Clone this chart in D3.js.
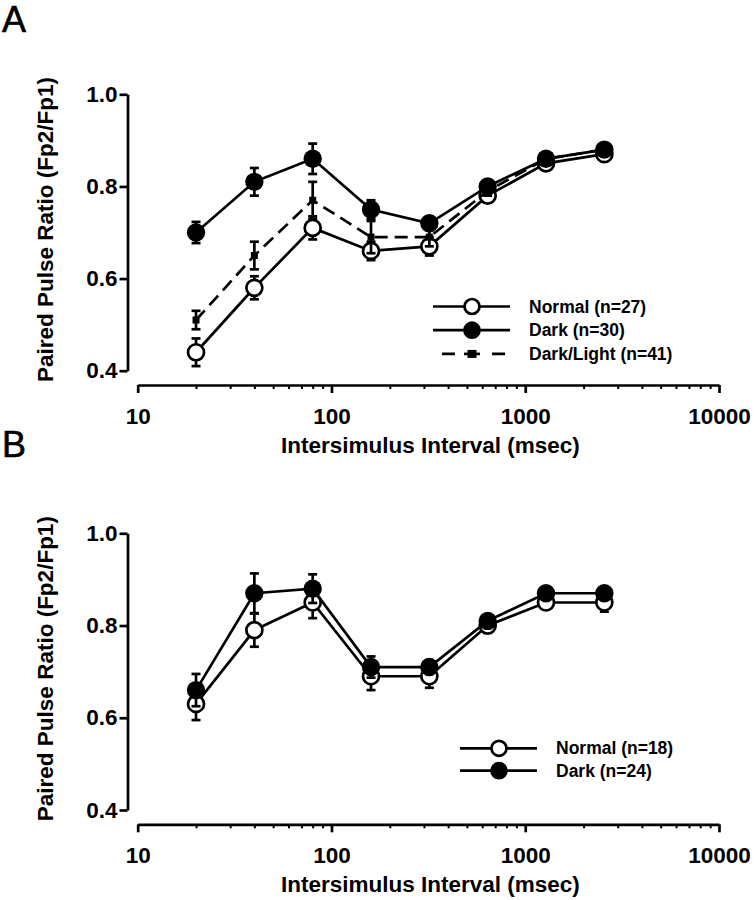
<!DOCTYPE html>
<html>
<head>
<meta charset="utf-8">
<script src="https://cdn.jsdelivr.net/npm/d3@7"></script>
<style>
  body { margin: 0; background: #fff; }
  svg text { font-family: "Liberation Sans", Arial, Helvetica, sans-serif; fill: #000; }
</style>
</head>
<body>
<div id="chart"></div>
<script>
// inter-stimulus intervals (msec)
const isi = [20, 40, 80, 160, 320, 640, 1280, 2560];

// panel A
const aNormal = [0.44, 0.58, 0.71, 0.66, 0.67, 0.78, 0.85, 0.87];
const aNormalErr = [0.03, 0.025, 0.025, 0.02, 0.02, 0.01, 0.01, 0.01];
const aDark = [0.70, 0.81, 0.86, 0.75, 0.72, 0.80, 0.86, 0.88];
const aDarkErr = [0.023, 0.03, 0.033, 0.02, 0.015, 0.01, 0.01, 0.01];
const aDarkLight = [0.51, 0.65, 0.77, 0.69, 0.69, 0.79, 0.86, 0.88];
const aDarkLightErr = [0.02, 0.03, 0.04, 0.035, 0.02, 0.01, 0.01, 0.01];

// panel B
const bNormal = [0.63, 0.79, 0.85, 0.69, 0.69, 0.80, 0.85, 0.85];
const bNormalErr = [0.035, 0.036, 0.034, 0.03, 0.025, 0.016, 0.01, 0.02];
const bDark = [0.66, 0.87, 0.88, 0.71, 0.71, 0.81, 0.87, 0.87];
const bDarkErr = [0.035, 0.043, 0.031, 0.023, 0.015, 0.01, 0.01, 0.01];

const yTicks = [0.4, 0.6, 0.8, 1.0];
const xMajorTicks = [10, 100, 1000, 10000];
const xTitle = "Intersimulus Interval (msec)";
const yTitle = "Paired Pulse Ratio (Fp2/Fp1)";
const aLegend = ["Normal (n=27)", "Dark (n=30)", "Dark/Light (n=41)"];
const bLegend = ["Normal (n=18)", "Dark (n=24)"];

var cfg = {
  width: 756,
  height: 900,
  xLeft: 137.7,
  xRight: 719,
  yAxisX: 127.5,
  lw: 2.7
};

var svg = d3.select("#chart").append("svg")
  .attr("width", cfg.width)
  .attr("height", cfg.height);

var x = d3.scaleLog().domain([10, 10000]).range([cfg.xLeft, cfg.xRight]);

// minor ticks 20..90, 200..900, 2000..9000
var xMinorTicks = [];
[10, 100, 1000].forEach(d => { for (let k = 2; k <= 9; k++) xMinorTicks.push(d * k); });

function drawPanel(opt){
  var y = d3.scaleLinear().domain([0.4, 1.0]).range([opt.yBottom, opt.yTop]);
  var g = svg.append("g");

  // panel letter
  g.append("text")
    .attr("x", 2)
    .attr("y", opt.letterY)
    .style("font-size", "36px")
    .style("stroke", "#000")
    .style("stroke-width", 0.6)
    .text(opt.letter);

  // y axis
  var yAxis = g.append("g")
    .attr("transform", `translate(${cfg.yAxisX},0)`)
    .call(d3.axisLeft(y).tickValues(yTicks).tickFormat(d3.format(".1f"))
      .tickSize(8).tickSizeOuter(0).tickPadding(2));
  yAxis.select(".domain").attr("stroke-width", cfg.lw);
  yAxis.selectAll("line").attr("stroke-width", cfg.lw);
  yAxis.selectAll("text")
    .style("font-size", "22.5px")
    .style("font-weight", "bold");

  // x axis: minor ticks then major with labels
  var xAxisY = opt.yBottom + 14.3;
  var xMinor = g.append("g")
    .attr("transform", `translate(0,${xAxisY})`)
    .call(d3.axisBottom(x).tickValues(xMinorTicks).tickFormat("").tickSize(4).tickSizeOuter(0));
  xMinor.select(".domain").attr("stroke-width", cfg.lw);
  xMinor.selectAll("line").attr("stroke-width", 2);

  var xMajor = g.append("g")
    .attr("transform", `translate(0,${xAxisY})`)
    .call(d3.axisBottom(x).tickValues(xMajorTicks).tickFormat(d3.format("d"))
      .tickSize(8).tickSizeOuter(0).tickPadding(15));
  xMajor.select(".domain").remove();
  xMajor.selectAll("line").attr("stroke-width", cfg.lw);
  xMajor.selectAll("text")
    .style("font-size", "22.5px")
    .style("font-weight", "bold");

  // axis titles
  g.append("text")
    .attr("x", (cfg.xLeft + cfg.xRight) / 2 + 2)
    .attr("y", xAxisY + 68)
    .attr("text-anchor", "middle")
    .style("font-size", "22.5px")
    .style("font-weight", "bold")
    .text(xTitle);

  g.append("text")
    .attr("transform", `translate(53,${(opt.yTop + opt.yBottom) / 2 - 3}) rotate(-90)`)
    .attr("text-anchor", "middle")
    .style("font-size", "22.5px")
    .style("font-weight", "bold")
    .text(yTitle);

  // series
  var line = d3.line().x(d => x(d.x)).y(d => y(d.v));

  opt.series.forEach(s => {
    var data = isi.map((t, i) => ({x: t, v: s.values[i], e: s.err[i]}));
    var sg = g.append("g");

    sg.append("path")
      .datum(data)
      .attr("d", line)
      .attr("fill", "none")
      .attr("stroke", "#000")
      .attr("stroke-width", cfg.lw)
      .attr("stroke-dasharray", s.dashed ? "13,7" : null);

    // error bars
    var eb = sg.selectAll(".err").data(data).enter().append("g");
    eb.append("line")
      .attr("x1", d => x(d.x)).attr("x2", d => x(d.x))
      .attr("y1", d => y(d.v - d.e)).attr("y2", d => y(d.v + d.e))
      .attr("stroke", "#000").attr("stroke-width", cfg.lw);
    [-1, 1].forEach(sign => {
      eb.append("line")
        .attr("x1", d => x(d.x) - 4.5).attr("x2", d => x(d.x) + 4.5)
        .attr("y1", d => y(d.v + sign * d.e)).attr("y2", d => y(d.v + sign * d.e))
        .attr("stroke", "#000").attr("stroke-width", cfg.lw);
    });

    // markers
    if (s.marker === "square") {
      sg.selectAll(".pt").data(data).enter().append("rect")
        .attr("x", d => x(d.x) - 3.5).attr("y", d => y(d.v) - 3.5)
        .attr("width", 7).attr("height", 7)
        .attr("fill", "#000");
    } else {
      sg.selectAll(".pt").data(data).enter().append("circle")
        .attr("cx", d => x(d.x)).attr("cy", d => y(d.v))
        .attr("r", s.marker === "open" ? 8 : 9.2)
        .attr("fill", s.marker === "open" ? "#fff" : "#000")
        .attr("stroke", s.marker === "open" ? "#000" : "none")
        .attr("stroke-width", cfg.lw);
    }
  });

  // legend
  var lg = g.append("g");
  opt.legend.forEach((lab, i) => {
    var s = opt.series[i];
    var ly = opt.legendY + i * opt.legendStep;
    var lx1 = opt.legendX, lx2 = opt.legendX + 77, mid = opt.legendX + 39;
    lg.append("line")
      .attr("x1", s.dashed ? lx1 + 9 : lx1).attr("x2", s.dashed ? lx2 - 5 : lx2)
      .attr("y1", ly).attr("y2", ly)
      .attr("stroke", "#000").attr("stroke-width", cfg.lw)
      .attr("stroke-dasharray", s.dashed ? "13,37" : null);
    if (s.marker === "square") {
      lg.append("rect")
        .attr("x", mid - 4.5).attr("y", ly - 4).attr("width", 9).attr("height", 8)
        .attr("fill", "#000");
      lg.append("line")
        .attr("x1", mid - 8).attr("x2", mid + 8)
        .attr("y1", ly).attr("y2", ly)
        .attr("stroke", "#000").attr("stroke-width", cfg.lw);
    } else {
      lg.append("circle")
        .attr("cx", mid).attr("cy", ly).attr("r", 7.5)
        .attr("fill", s.marker === "open" ? "#fff" : "#000")
        .attr("stroke", "#000").attr("stroke-width", cfg.lw);
    }
    lg.append("text")
      .attr("x", opt.legendX + 96)
      .attr("y", ly)
      .attr("dy", "0.35em")
      .style("font-size", "17.5px")
      .style("font-weight", "bold")
      .text(lab);
  });
}

drawPanel({
  letter: "A", letterY: 31.5,
  yTop: 94.3, yBottom: 370.7,
  series: [
    {values: aNormal, err: aNormalErr, marker: "open"},
    {values: aDark, err: aDarkErr, marker: "filled"},
    {values: aDarkLight, err: aDarkLightErr, marker: "square", dashed: true}
  ],
  legend: aLegend, legendX: 433, legendY: 306.5, legendStep: 23.7
});

drawPanel({
  letter: "B", letterY: 456.5,
  yTop: 533.3, yBottom: 810,
  series: [
    {values: bNormal, err: bNormalErr, marker: "open"},
    {values: bDark, err: bDarkErr, marker: "filled"}
  ],
  legend: bLegend, legendX: 460, legendY: 748.3, legendStep: 22.4
});
</script>
</body>
</html>
